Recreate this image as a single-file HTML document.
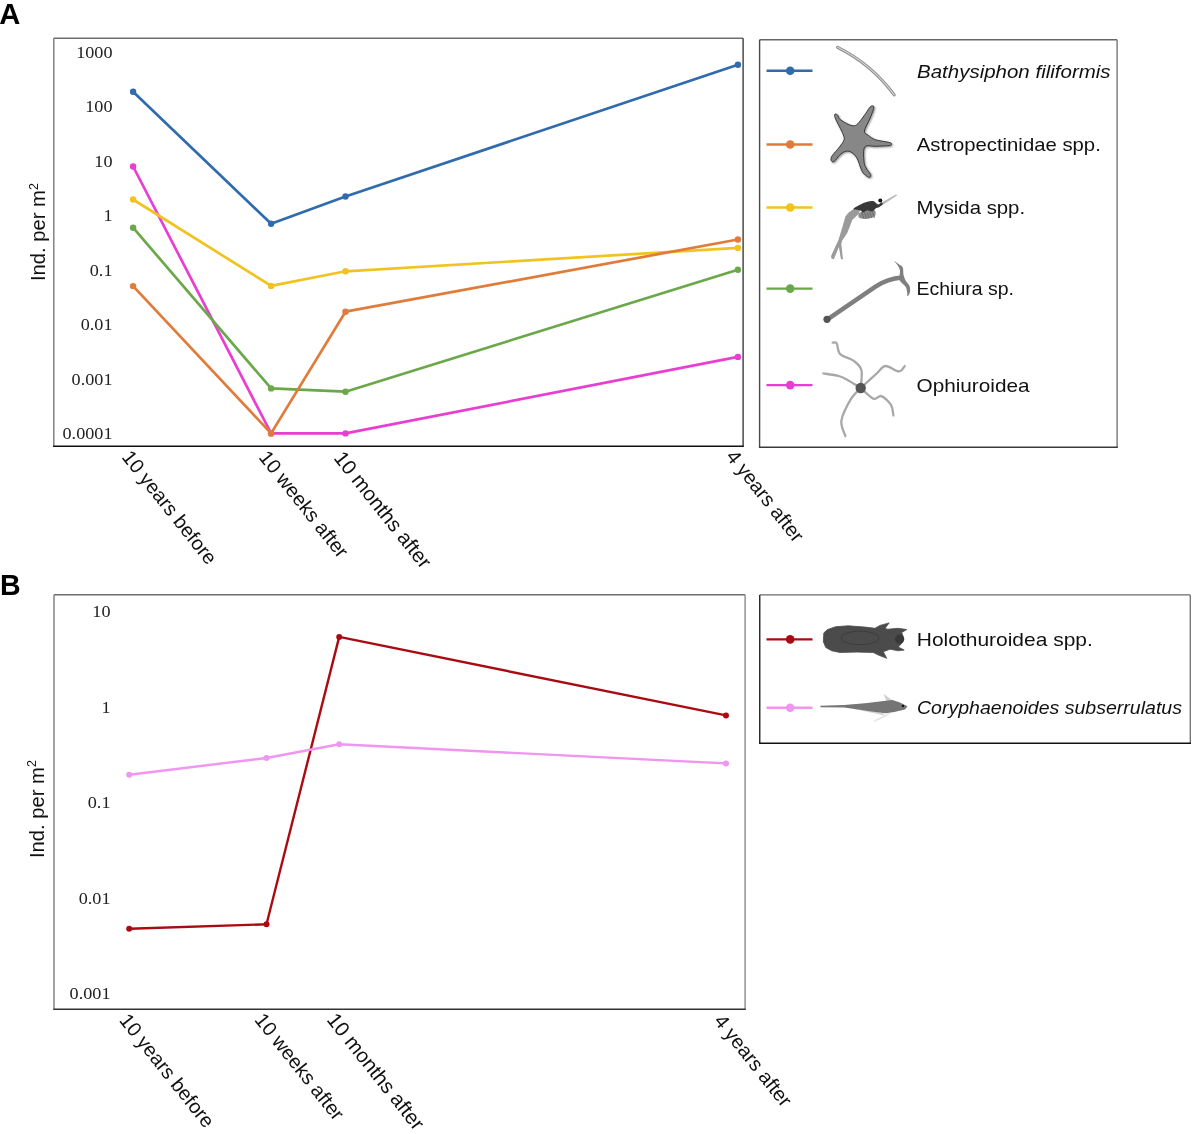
<!DOCTYPE html>
<html><head><meta charset="utf-8"><style>
html,body{margin:0;padding:0;background:#fff;width:1199px;height:1134px;overflow:hidden}
svg{display:block;will-change:transform}
</style></head><body>
<svg width="1199" height="1134" viewBox="0 0 1199 1134">
<rect width="100%" height="100%" fill="#fff"/>
<text x="-0.8" y="23.7" font-family="Liberation Sans, sans-serif" font-weight="bold" font-size="29.2" fill="#000">A</text>
<text x="0" y="595" font-family="Liberation Sans, sans-serif" font-weight="bold" font-size="28.6" fill="#000">B</text>
<line x1="53.8" y1="38.3" x2="743.1" y2="38.3" stroke="#6e6e6e" stroke-width="1.4"/><line x1="53.8" y1="38.3" x2="53.8" y2="446.3" stroke="#7a7a7a" stroke-width="1.4"/><line x1="743.1" y1="38.3" x2="743.1" y2="446.3" stroke="#3c3c3c" stroke-width="1.4"/><line x1="53.099999999999994" y1="446.3" x2="743.8000000000001" y2="446.3" stroke="#111" stroke-width="1.4"/>
<line x1="54.0" y1="594.8" x2="745.1" y2="594.8" stroke="#6e6e6e" stroke-width="1.4"/><line x1="54.0" y1="594.8" x2="54.0" y2="1009.3" stroke="#7a7a7a" stroke-width="1.4"/><line x1="745.1" y1="594.8" x2="745.1" y2="1009.3" stroke="#8a8a8a" stroke-width="1.4"/><line x1="53.3" y1="1009.3" x2="745.8000000000001" y2="1009.3" stroke="#333" stroke-width="1.4"/>
<line x1="759.6" y1="39.8" x2="1117.1" y2="39.8" stroke="#666" stroke-width="1.4"/><line x1="759.6" y1="39.8" x2="759.6" y2="447.3" stroke="#4a4a4a" stroke-width="1.4"/><line x1="1117.1" y1="39.8" x2="1117.1" y2="447.3" stroke="#777" stroke-width="1.4"/><line x1="758.9" y1="447.3" x2="1117.8" y2="447.3" stroke="#3a3a3a" stroke-width="1.4"/>
<line x1="759.75" y1="594.9" x2="1190.3" y2="594.9" stroke="#6a6a6a" stroke-width="1.4"/><line x1="759.75" y1="594.9" x2="759.75" y2="743.25" stroke="#222" stroke-width="1.4"/><line x1="1190.3" y1="594.9" x2="1190.3" y2="743.25" stroke="#777" stroke-width="1.4"/><line x1="759.05" y1="743.25" x2="1191.0" y2="743.25" stroke="#111" stroke-width="1.4"/>
<text transform="translate(112.5,57.5) scale(1.07,1)" font-family="Liberation Serif, serif" font-size="17" fill="#222" text-anchor="end">1000</text>
<text transform="translate(112.5,112.0) scale(1.07,1)" font-family="Liberation Serif, serif" font-size="17" fill="#222" text-anchor="end">100</text>
<text transform="translate(112.5,166.5) scale(1.07,1)" font-family="Liberation Serif, serif" font-size="17" fill="#222" text-anchor="end">10</text>
<text transform="translate(112.5,221.0) scale(1.07,1)" font-family="Liberation Serif, serif" font-size="17" fill="#222" text-anchor="end">1</text>
<text transform="translate(112.5,275.5) scale(1.07,1)" font-family="Liberation Serif, serif" font-size="17" fill="#222" text-anchor="end">0.1</text>
<text transform="translate(112.5,330.0) scale(1.07,1)" font-family="Liberation Serif, serif" font-size="17" fill="#222" text-anchor="end">0.01</text>
<text transform="translate(112.5,384.5) scale(1.07,1)" font-family="Liberation Serif, serif" font-size="17" fill="#222" text-anchor="end">0.001</text>
<text transform="translate(112.5,439.0) scale(1.07,1)" font-family="Liberation Serif, serif" font-size="17" fill="#222" text-anchor="end">0.0001</text>
<text transform="translate(110.5,617.4) scale(1.07,1)" font-family="Liberation Serif, serif" font-size="17" fill="#222" text-anchor="end">10</text>
<text transform="translate(110.5,712.8) scale(1.07,1)" font-family="Liberation Serif, serif" font-size="17" fill="#222" text-anchor="end">1</text>
<text transform="translate(110.5,808.2) scale(1.07,1)" font-family="Liberation Serif, serif" font-size="17" fill="#222" text-anchor="end">0.1</text>
<text transform="translate(110.5,903.6) scale(1.07,1)" font-family="Liberation Serif, serif" font-size="17" fill="#222" text-anchor="end">0.01</text>
<text transform="translate(110.5,999.0) scale(1.07,1)" font-family="Liberation Serif, serif" font-size="17" fill="#222" text-anchor="end">0.001</text>
<text transform="translate(45.4,281) rotate(-90)" font-family="Liberation Sans, sans-serif" font-size="20.2" fill="#111">Ind. per m<tspan font-size="12.5" dy="-7.5">2</tspan></text>
<text transform="translate(43.5,858) rotate(-90)" font-family="Liberation Sans, sans-serif" font-size="20.2" fill="#111">Ind. per m<tspan font-size="12.5" dy="-7.5">2</tspan></text>
<polyline points="133.1,166.5 271.1,433.4 345.5,433.4 737.9,356.9" fill="none" stroke="#e93ed2" stroke-width="2.7" stroke-linejoin="round"/><circle cx="133.1" cy="166.5" r="3.2" fill="#e93ed2"/><circle cx="271.1" cy="433.4" r="3.2" fill="#e93ed2"/><circle cx="345.5" cy="433.4" r="3.2" fill="#e93ed2"/><circle cx="737.9" cy="356.9" r="3.2" fill="#e93ed2"/>
<polyline points="133.1,227.7 271.1,388.4 345.5,391.7 737.9,269.7" fill="none" stroke="#6aa84a" stroke-width="2.7" stroke-linejoin="round"/><circle cx="133.1" cy="227.7" r="3.2" fill="#6aa84a"/><circle cx="271.1" cy="388.4" r="3.2" fill="#6aa84a"/><circle cx="345.5" cy="391.7" r="3.2" fill="#6aa84a"/><circle cx="737.9" cy="269.7" r="3.2" fill="#6aa84a"/>
<polyline points="133.1,199.5 271.1,285.9 345.5,271.3 737.9,247.9" fill="none" stroke="#f0c320" stroke-width="2.7" stroke-linejoin="round"/><circle cx="133.1" cy="199.5" r="3.2" fill="#f0c320"/><circle cx="271.1" cy="285.9" r="3.2" fill="#f0c320"/><circle cx="345.5" cy="271.3" r="3.2" fill="#f0c320"/><circle cx="737.9" cy="247.9" r="3.2" fill="#f0c320"/>
<polyline points="133.1,286.1 271.1,433.4 345.5,311.7 737.9,239.5" fill="none" stroke="#e07b39" stroke-width="2.7" stroke-linejoin="round"/><circle cx="133.1" cy="286.1" r="3.2" fill="#e07b39"/><circle cx="271.1" cy="433.4" r="3.2" fill="#e07b39"/><circle cx="345.5" cy="311.7" r="3.2" fill="#e07b39"/><circle cx="737.9" cy="239.5" r="3.2" fill="#e07b39"/>
<polyline points="133.1,91.8 271.1,223.7 345.5,196.5 737.9,64.7" fill="none" stroke="#306bae" stroke-width="2.7" stroke-linejoin="round"/><circle cx="133.1" cy="91.8" r="3.2" fill="#306bae"/><circle cx="271.1" cy="223.7" r="3.2" fill="#306bae"/><circle cx="345.5" cy="196.5" r="3.2" fill="#306bae"/><circle cx="737.9" cy="64.7" r="3.2" fill="#306bae"/>
<polyline points="129.2,928.7 266.5,924.3 339.2,636.9 726.0,715.4" fill="none" stroke="#a80c12" stroke-width="2.4" stroke-linejoin="round"/><circle cx="129.2" cy="928.7" r="3.0" fill="#a80c12"/><circle cx="266.5" cy="924.3" r="3.0" fill="#a80c12"/><circle cx="339.2" cy="636.9" r="3.0" fill="#a80c12"/><circle cx="726.0" cy="715.4" r="3.0" fill="#a80c12"/>
<polyline points="129.2,774.7 266.5,758.0 339.2,744.2 726.0,763.4" fill="none" stroke="#f095f0" stroke-width="2.4" stroke-linejoin="round"/><circle cx="129.2" cy="774.7" r="3.0" fill="#f095f0"/><circle cx="266.5" cy="758.0" r="3.0" fill="#f095f0"/><circle cx="339.2" cy="744.2" r="3.0" fill="#f095f0"/><circle cx="726.0" cy="763.4" r="3.0" fill="#f095f0"/>
<text transform="translate(121.0,457.3) rotate(51.5)" font-family="Liberation Sans, sans-serif" font-size="20" fill="#111">10 years before</text>
<text transform="translate(258.0,457.5) rotate(51.5)" font-family="Liberation Sans, sans-serif" font-size="20" fill="#111">10 weeks after</text>
<text transform="translate(333.0,458.3) rotate(51.5)" font-family="Liberation Sans, sans-serif" font-size="20.5" fill="#111">10 months after</text>
<text transform="translate(725.3,456.7) rotate(51.5)" font-family="Liberation Sans, sans-serif" font-size="20" fill="#111">4 years after</text>
<text transform="translate(118.5,1020.5) rotate(51.5)" font-family="Liberation Sans, sans-serif" font-size="20" fill="#111">10 years before</text>
<text transform="translate(253.8,1020.0) rotate(51.5)" font-family="Liberation Sans, sans-serif" font-size="20" fill="#111">10 weeks after</text>
<text transform="translate(326.0,1020.0) rotate(51.5)" font-family="Liberation Sans, sans-serif" font-size="20.5" fill="#111">10 months after</text>
<text transform="translate(713.2,1021.2) rotate(51.5)" font-family="Liberation Sans, sans-serif" font-size="20" fill="#111">4 years after</text>
<line x1="766.5" y1="70.7" x2="812.5" y2="70.7" stroke="#306bae" stroke-width="2.4"/><circle cx="790.2" cy="70.7" r="4.3" fill="#306bae"/>
<line x1="766.5" y1="144.5" x2="812.5" y2="144.5" stroke="#e07b39" stroke-width="2.4"/><circle cx="790.2" cy="144.5" r="4.3" fill="#e07b39"/>
<line x1="766.5" y1="207.5" x2="812.5" y2="207.5" stroke="#f0c320" stroke-width="2.4"/><circle cx="790.2" cy="207.5" r="4.3" fill="#f0c320"/>
<line x1="766.5" y1="288.6" x2="812.5" y2="288.6" stroke="#6aa84a" stroke-width="2.4"/><circle cx="790.2" cy="288.6" r="4.3" fill="#6aa84a"/>
<line x1="766.5" y1="385.1" x2="812.5" y2="385.1" stroke="#e93ed2" stroke-width="2.4"/><circle cx="790.2" cy="385.1" r="4.3" fill="#e93ed2"/>
<line x1="766.5" y1="639.4" x2="812.5" y2="639.4" stroke="#a80c12" stroke-width="2.4"/><circle cx="790.2" cy="639.4" r="4.3" fill="#a80c12"/>
<line x1="766.5" y1="707.8" x2="812.5" y2="707.8" stroke="#f095f0" stroke-width="2.4"/><circle cx="790.2" cy="707.8" r="4.3" fill="#f095f0"/>
<defs><filter id="sh" x="-20%" y="-20%" width="140%" height="140%"><feGaussianBlur in="SourceAlpha" stdDeviation="1.2"/><feOffset dx="1" dy="1" result="b"/><feComponentTransfer><feFuncA type="linear" slope="0.45"/></feComponentTransfer><feMerge><feMergeNode/><feMergeNode in="SourceGraphic"/></feMerge></filter><filter id="bl"><feGaussianBlur stdDeviation="0.35"/></filter></defs>
<path d="M837.6,47.3 Q871.7,64.2 894.2,94.9" fill="none" stroke="#8c8c8c" stroke-width="3.1" stroke-linecap="round"/>
<path d="M837.6,47.3 Q871.7,64.2 894.2,94.9" fill="none" stroke="#d6d6d6" stroke-width="1.1" stroke-linecap="round"/>
<path d="M835.1,114.1 C835.6,113.9 836.8,114.3 837.7,115.2 C838.5,116.1 838.3,118.0 840.2,119.5 C842.1,121.1 846.5,123.6 848.9,124.6 C851.3,125.6 853.0,126.0 854.6,125.7 C856.3,125.3 857.2,124.4 859.0,122.4 C860.8,120.4 863.6,116.3 865.5,113.7 C867.4,111.1 868.9,108.1 870.2,106.9 C871.5,105.6 872.9,105.7 873.4,106.1 C874.0,106.6 874.0,107.3 873.4,109.4 C872.8,111.5 871.3,115.2 869.8,118.8 C868.3,122.4 864.6,128.3 864.4,131.1 C864.2,133.9 866.5,134.0 868.4,135.4 C870.3,136.9 872.2,138.6 875.6,139.8 C879.0,140.9 886.0,141.6 888.6,142.3 C891.3,143.0 891.4,143.2 891.5,143.7 C891.6,144.3 892.0,145.1 889.4,145.6 C886.7,146.0 879.7,146.0 875.6,146.3 C871.5,146.5 866.7,144.5 864.8,147.0 C862.8,149.5 863.8,158.0 864.0,161.5 C864.3,165.0 865.1,165.8 866.2,168.0 C867.3,170.1 870.0,172.9 870.6,174.5 C871.1,176.0 870.3,177.2 869.5,177.4 C868.6,177.5 866.8,176.3 865.5,175.2 C864.2,174.1 863.3,173.8 861.9,170.9 C860.4,168.0 858.7,161.0 856.8,157.8 C854.9,154.7 852.4,152.7 850.3,151.7 C848.3,150.7 846.3,151.1 844.5,151.7 C842.7,152.3 841.3,153.6 839.5,155.3 C837.7,157.0 835.1,161.0 833.7,161.8 C832.3,162.6 831.4,161.0 831.1,160.0 C830.9,159.0 830.8,157.8 832.2,155.7 C833.6,153.5 837.5,149.7 839.5,147.0 C841.4,144.3 843.7,141.8 844.2,139.4 C844.6,137.0 843.4,135.1 842.4,132.5 C841.3,129.9 839.3,126.5 838.0,123.9 C836.7,121.2 835.2,118.3 834.8,116.6 C834.3,115.0 834.6,114.3 835.1,114.1 Z" fill="#878787" stroke="#2e2e2e" stroke-width="0.9" filter="url(#sh)"/>
<path d="M853.5,209.0 L860.3,209.0 L858.9,213.8 L852.2,219.9 L850.8,224.0 L847.4,232.8 L842.0,241.0 L841.3,244.3 L843.0,259.3 L841.0,259.3 L838.9,247.1 L833.8,259.3 L831.4,258.6 L831.1,255.9 L838.6,239.6 L842.7,226.0 L845.4,216.5 L848.1,213.1 Z" fill="#9a9a9a" filter="url(#bl)"/>
<path d="M858.3,215.2 C858.5,214.1 859.8,212.6 861.7,211.8 C863.5,210.9 866.9,210.2 869.1,210.1 C871.4,210.0 874.3,210.0 875.2,211.1 C876.1,212.2 875.9,215.2 874.6,216.5 C873.2,217.8 869.5,218.6 867.1,218.9 C864.7,219.2 861.8,218.8 860.3,218.2 C858.8,217.6 858.0,216.2 858.3,215.2 Z" fill="#8c8c8c" filter="url(#bl)"/>
<line x1="861.7" y1="212.4" x2="863.7" y2="217.9" stroke="#5a5a5a" stroke-width="0.7"/>
<line x1="864.4" y1="212.4" x2="866.4" y2="217.9" stroke="#5a5a5a" stroke-width="0.7"/>
<line x1="867.1" y1="212.4" x2="869.1" y2="217.9" stroke="#5a5a5a" stroke-width="0.7"/>
<line x1="869.8" y1="212.4" x2="871.8" y2="217.9" stroke="#5a5a5a" stroke-width="0.7"/>
<line x1="872.5" y1="212.4" x2="874.6" y2="217.9" stroke="#5a5a5a" stroke-width="0.7"/>
<path d="M877.3,205.0 L895.9,194.4 L897.3,195.3 L884.1,204.0 L879.3,207.0 Z" fill="#b8b8b8" filter="url(#bl)"/>
<path d="M853.5,209.0 C853.3,208.2 856.9,206.4 858.9,205.3 C861.0,204.2 863.9,202.9 865.7,202.3 C867.5,201.6 868.4,201.4 869.8,201.2 C871.2,201.1 872.8,200.9 873.9,201.2 C875.0,201.6 875.5,202.7 876.3,203.3 C877.0,203.8 877.8,204.7 878.6,204.6 C879.5,204.5 880.7,202.7 881.3,202.6 C882.0,202.5 883.0,203.2 882.7,204.0 C882.4,204.7 880.5,206.3 879.3,207.0 C878.1,207.7 876.7,207.6 875.6,208.4 C874.4,209.1 873.9,211.1 872.5,211.4 C871.1,211.8 868.7,210.2 867.1,210.4 C865.5,210.6 864.1,212.4 863.0,212.4 C861.9,212.4 861.9,211.0 860.3,210.4 C858.7,209.8 853.7,209.9 853.5,209.0 Z" fill="#383838" filter="url(#bl)"/>
<circle cx="880.3" cy="200.6" r="2.0" fill="#111"/>
<path d="M827.9,319.2 L875.5,286.7 Q887.4,278.8 902.0,277.6" fill="none" stroke="#7f7f7f" stroke-width="4.5" stroke-linecap="round"/>
<path d="M894.5,261.3 C894.7,261.2 897.9,263.5 899.2,264.5 C900.6,265.6 902.1,265.8 902.8,267.7 C903.5,269.5 903.1,273.5 903.6,275.6 C904.1,277.7 904.6,278.6 905.6,280.4 C906.6,282.1 908.8,283.9 909.5,285.9 C910.3,287.9 910.3,290.5 909.9,292.2 C909.6,294.0 908.0,296.2 907.6,296.2 C907.1,296.2 907.5,293.8 907.2,292.2 C906.8,290.7 906.6,288.4 905.6,286.7 C904.5,285.0 901.9,283.3 900.8,281.9 C899.8,280.6 899.4,280.6 899.2,278.8 C899.1,276.9 900.3,273.1 900.0,270.8 C899.8,268.6 898.6,266.9 897.7,265.3 C896.7,263.7 894.2,261.5 894.5,261.3 Z" fill="#7f7f7f"/>
<circle cx="827.0" cy="319.3" r="3.6" fill="#555"/>
<path d="M860.7,388.0 C860.9,385.0 862.6,374.6 861.4,370.0 C860.2,365.5 857.0,363.4 853.4,360.7 C849.8,358.0 842.8,356.9 840.1,354.0 C837.3,351.1 838.0,345.2 836.7,343.3 C835.5,341.5 833.4,342.8 832.7,342.7" fill="none" stroke="#a8a8a8" stroke-width="2.3" stroke-linecap="round"/>
<path d="M860.7,388.0 C863.3,385.7 872.0,377.7 876.1,374.0 C880.2,370.4 881.7,366.5 885.4,366.0 C889.2,365.6 895.6,371.4 898.8,371.4 C902.0,371.4 903.8,366.9 904.8,366.0" fill="none" stroke="#a8a8a8" stroke-width="2.3" stroke-linecap="round"/>
<path d="M860.7,388.0 C858.4,386.6 850.4,381.4 846.7,379.4 C843.1,377.4 842.6,377.0 838.7,376.0 C834.8,375.0 825.9,373.8 823.4,373.4" fill="none" stroke="#a8a8a8" stroke-width="2.3" stroke-linecap="round"/>
<path d="M860.7,388.0 C859.1,389.9 854.0,393.9 850.7,399.4 C847.5,404.8 842.3,414.6 841.4,420.7 C840.5,426.9 844.7,433.5 845.4,436.1" fill="none" stroke="#a8a8a8" stroke-width="2.3" stroke-linecap="round"/>
<path d="M860.7,388.0 C862.9,389.8 870.0,397.4 873.4,398.7 C876.9,400.1 878.5,395.1 881.4,396.1 C884.3,397.1 888.8,401.5 890.8,404.7 C892.8,408.0 893.0,413.6 893.4,415.4" fill="none" stroke="#a8a8a8" stroke-width="2.3" stroke-linecap="round"/>
<circle cx="860.7" cy="388.0" r="5.2" fill="#555"/>
<path d="M823.8,632.9 L827.5,629.6 L835.8,626.7 L848.3,625.8 L865.0,627.1 L875.0,628.3 L880.0,625.4 L889.2,622.9 L885.0,628.3 L887.5,629.2 L898.3,628.3 L906.7,629.6 L901.7,632.5 L903.8,638.3 L901.7,643.3 L898.3,647.1 L904.2,650.0 L898.3,650.8 L890.0,649.2 L883.3,651.7 L886.7,658.3 L878.3,655.0 L873.3,652.5 L856.7,652.1 L840.0,652.5 L831.7,650.8 L825.8,647.5 L823.3,641.7 Z" fill="#4b4b4b" stroke="#4b4b4b" stroke-width="0.8" stroke-linejoin="round"/>
<ellipse cx="860.0" cy="637.9" rx="19" ry="6.8" fill="none" stroke="#3c3c3c" stroke-width="1"/>
<circle cx="899.6" cy="639.2" r="4.6" fill="#383838"/>
<path d="M883.3,693.8 L887.5,696.7 L892.5,700.4 L886.7,701.2 Z" fill="#cfcfcf" filter="url(#bl)"/>
<path d="M875.0,721.7 L885.8,716.7 L890.8,713.3 L888.3,712.9 L878.3,718.3 L873.3,720.8 Z" fill="#e6e6e6" filter="url(#bl)"/>
<path d="M848.3,707.9 L865.0,710.0 L883.3,712.9 L884.2,715.4 L873.3,712.9 Z" fill="#d2d2d2" filter="url(#bl)"/>
<path d="M820.4,705.8 L844.2,705.0 L865.0,703.3 L885.8,700.8 L892.5,700.0 L900.0,702.5 L907.5,706.2 L905.0,709.6 L894.2,712.1 L885.8,713.3 L873.3,711.7 L856.7,709.2 L844.2,707.5 L820.4,707.3 Z" fill="#747474" filter="url(#bl)"/>
<circle cx="902.9" cy="706.0" r="1.2" fill="#111"/>
<text x="917" y="77.7" font-family="Liberation Sans, sans-serif" font-size="19" textLength="193.6" lengthAdjust="spacingAndGlyphs" font-style="italic" fill="#111">Bathysiphon filiformis</text>
<text x="916.8" y="150.7" font-family="Liberation Sans, sans-serif" font-size="19" textLength="184" lengthAdjust="spacingAndGlyphs" fill="#111">Astropectinidae spp.</text>
<text x="916.5" y="214.4" font-family="Liberation Sans, sans-serif" font-size="19" textLength="108.6" lengthAdjust="spacingAndGlyphs" fill="#111">Mysida spp.</text>
<text x="916.5" y="295.2" font-family="Liberation Sans, sans-serif" font-size="19" textLength="97.5" lengthAdjust="spacingAndGlyphs" fill="#111">Echiura sp.</text>
<text x="916.5" y="391.5" font-family="Liberation Sans, sans-serif" font-size="19" textLength="113" lengthAdjust="spacingAndGlyphs" fill="#111">Ophiuroidea</text>
<text x="916.8" y="646.1" font-family="Liberation Sans, sans-serif" font-size="19" textLength="176" lengthAdjust="spacingAndGlyphs" fill="#111">Holothuroidea spp.</text>
<text x="917" y="713.9" font-family="Liberation Sans, sans-serif" font-size="19" textLength="265" lengthAdjust="spacingAndGlyphs" font-style="italic" fill="#111">Coryphaenoides subserrulatus</text>
</svg>
</body></html>
